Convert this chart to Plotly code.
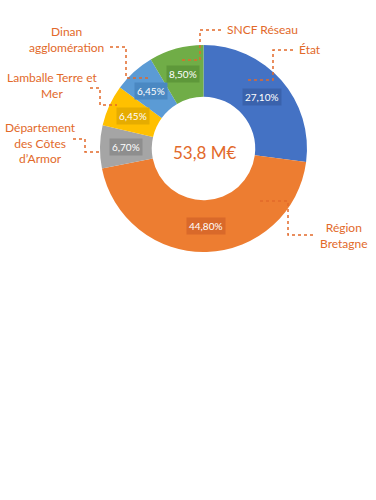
import math
import plotly.graph_objects as go

# Data
labels = ["État", "Région Bretagne", "Département des Côtes d'Armor",
          "Lamballe Terre et Mer", "Dinan agglomération", "SNCF Réseau"]
values = [27.10, 44.80, 6.70, 6.45, 6.45, 8.50]
value_text = ["27,10%", "44,80%", "6,70%", "6,45%", "6,45%", "8,50%"]
colors = ["#4472C4", "#ED7D31", "#A5A5A5", "#FFC000", "#5B9BD5", "#70AD47"]
box_colors = ["#3A62AC", "#D9692A", "#8E8E8E", "#E6AC00", "#4A88C2", "#5E983A"]
total_label = "53,8 M€"

W, H = 376, 500
ORANGE = "#E2692A"
FONT = "Lato, Open Sans, sans-serif"

# pie geometry (pixels)
cx, cy, R = 203.5, 148.5, 103.5
hole = 0.5

def px(x):
    return x / W

def py(y):
    return 1 - y / H

fig = go.Figure()
fig.add_trace(go.Pie(
    labels=labels, values=values, sort=False, direction="clockwise", rotation=0,
    hole=hole, marker=dict(colors=colors, line=dict(width=0)),
    textinfo="none", hoverinfo="label+percent", showlegend=False,
    domain=dict(x=[px(cx - R), px(cx + R)], y=[py(cy + R), py(cy - R)]),
))

annotations = []
# inner value labels at ring middle, angles from the values
tot = sum(values)
acc = 0.0
rm = R * (1 + hole) / 2
for v, t, bc in zip(values, value_text, box_colors):
    mid = (acc + v / 2) / tot * 2 * math.pi
    acc += v
    x = cx + rm * math.sin(mid)
    y = cy - rm * math.cos(mid)
    annotations.append(dict(
        x=px(x), y=py(y), xref="paper", yref="paper", text=t, showarrow=False,
        font=dict(family=FONT, size=10, color="white"),
        bgcolor=bc, borderpad=2, xanchor="center", yanchor="middle",
    ))

annotations.append(dict(
    x=px(cx + 1), y=py(cy + 4), xref="paper", yref="paper", text=total_label,
    showarrow=False, font=dict(family=FONT, size=17, color=ORANGE),
    xanchor="center", yanchor="middle",
))

# outer labels
outer = [
    ("SNCF Réseau", 225, 29, "left"),
    ("État", 297, 50, "left"),
    ("Région<br>Bretagne", 344, 235, "center"),
    ("Département<br>des Côtes<br>d’Armor", 40, 143, "center"),
    ("Lamballe Terre et<br>Mer", 52, 86, "center"),
    ("Dinan<br>agglomération", 66, 40, "center"),
]
for text, x, y, anchor in outer:
    annotations.append(dict(
        x=px(x), y=py(y), xref="paper", yref="paper", text=text, showarrow=False,
        font=dict(family=FONT, size=12, color=ORANGE), align="center",
        xanchor=anchor, yanchor="middle",
    ))

# leader lines (pixel polylines)
leaders = [
    [(221, 30), (200, 30), (200, 60), (182, 60)],
    [(293, 50), (273, 50), (273, 80), (248, 80)],
    [(260, 201), (288, 201), (288, 235), (315, 235)],
    [(73, 139), (85, 139), (85, 152), (100, 152)],
    [(90, 88), (100, 88), (100, 105), (117, 105)],
    [(110, 47), (126, 47), (126, 78), (148, 78)],
]
shapes = []
for pts in leaders:
    path = "M " + " L ".join(f"{px(a):.5f},{py(b):.5f}" for a, b in pts)
    shapes.append(dict(type="path", xref="paper", yref="paper", path=path,
                       line=dict(color=ORANGE, width=1.5, dash="dot")))

fig.update_layout(
    width=W, height=H, autosize=False,
    margin=dict(l=0, r=0, t=0, b=0),
    paper_bgcolor="white", plot_bgcolor="white",
    annotations=annotations, shapes=shapes,
)
fig.write_html(
    "out.html",
    config={"displayModeBar": False},
    post_script="document.body.style.margin='0';document.body.style.overflow='hidden';",
)
